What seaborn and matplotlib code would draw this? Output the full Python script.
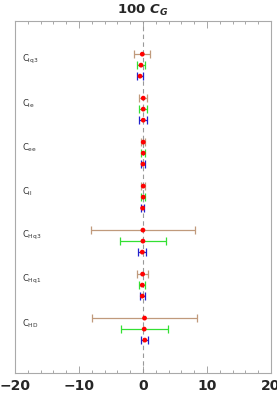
import numpy as np
import pandas as pd
import matplotlib.pyplot as plt
import seaborn as sns

# coefficients, top to bottom
coeffs = ['$\\mathrm{C}_{\\mathrm{lq3}}$', '$\\mathrm{C}_{\\mathrm{le}}$', '$\\mathrm{C}_{\\mathrm{ee}}$',
          '$\\mathrm{C}_{\\mathrm{ll}}$', '$\\mathrm{C}_{\\mathrm{Hq3}}$', '$\\mathrm{C}_{\\mathrm{Hq1}}$',
          '$\\mathrm{C}_{\\mathrm{HD}}$']

# three fits per coefficient (brown, green, blue rows)
center_a = [-0.1, 0.05, 0.05, 0.05, 0.0, -0.05, 0.25]
err_a = [1.25, 0.6, 0.35, 0.35, 8.15, 0.85, 8.15]
center_b = [-0.3, 0.05, 0.05, 0.05, 0.0, -0.1, 0.2]
err_b = [0.7, 0.6, 0.35, 0.35, 3.6, 0.5, 3.65]
center_c = [-0.45, 0.05, 0.0, -0.05, -0.1, -0.1, 0.3]
err_c = [0.4, 0.6, 0.3, 0.25, 0.6, 0.35, 0.55]

row_colors = ['#c09a7c', '#33e033', '#2222cc']

rows = []
for g, name in enumerate(coeffs):
    for r, (c, e) in enumerate([(center_a[g], err_a[g]), (center_b[g], err_b[g]), (center_c[g], err_c[g])]):
        rows.append({'coef': name, 'fit': r, 'center': c, 'err': e, 'pos': g * 4 + r})
df = pd.DataFrame(rows)

sns.set_style('white')
fig = plt.figure(figsize=(2.77, 4.15), dpi=100)
ax = fig.add_axes([0.054, 0.101, 0.924, 0.848])

ax.axvline(0, color='#999999', lw=0.8, ls=(0, (4, 3)), zorder=0)

for r in range(3):
    sub = df[df.fit == r]
    eb = ax.errorbar(sub.center, sub.pos, xerr=sub.err, fmt='none', ecolor=row_colors[r],
                     elinewidth=0.9, capsize=3.2, capthick=0.9, zorder=1)
    for cap in eb[1]:
        cap.set_color('#909090')

sns.scatterplot(data=df, x='center', y='pos', color='red', s=12, edgecolor='none', ax=ax, zorder=3)

for g, name in enumerate(coeffs):
    ax.text(-18.9, g * 4 + 0.5, name, fontsize=6, ha='left', va='center', color='#333333')

ax.set_xlim(-20, 20)
ax.set_ylim(29, -3)
ax.set_xlabel('')
ax.set_ylabel('')
ax.set_yticks([])
ax.set_xticks([-20, -10, 0, 10, 20])
ax.set_xticks(np.arange(-20, 21, 2), minor=True)
ax.tick_params(axis='x', which='major', direction='in', length=5, width=0.6, color='#999999',
               top=True, bottom=True, labelsize=10, pad=4)
ax.tick_params(axis='x', which='minor', direction='in', length=2.5, width=0.6, color='#999999',
               top=True, bottom=True)
for lab in ax.get_xticklabels():
    lab.set_fontweight('bold')
    lab.set_family(['Liberation Sans Narrow', 'DejaVu Sans'])
for s in ax.spines.values():
    s.set_color('#aaaaaa')
    s.set_linewidth(0.8)

ax.set_title('100 $\\mathbfit{C}_{\\mathbfit{G}}$', fontsize=9.5, fontweight='bold', pad=5)

fig.savefig('out.png', dpi=100)
